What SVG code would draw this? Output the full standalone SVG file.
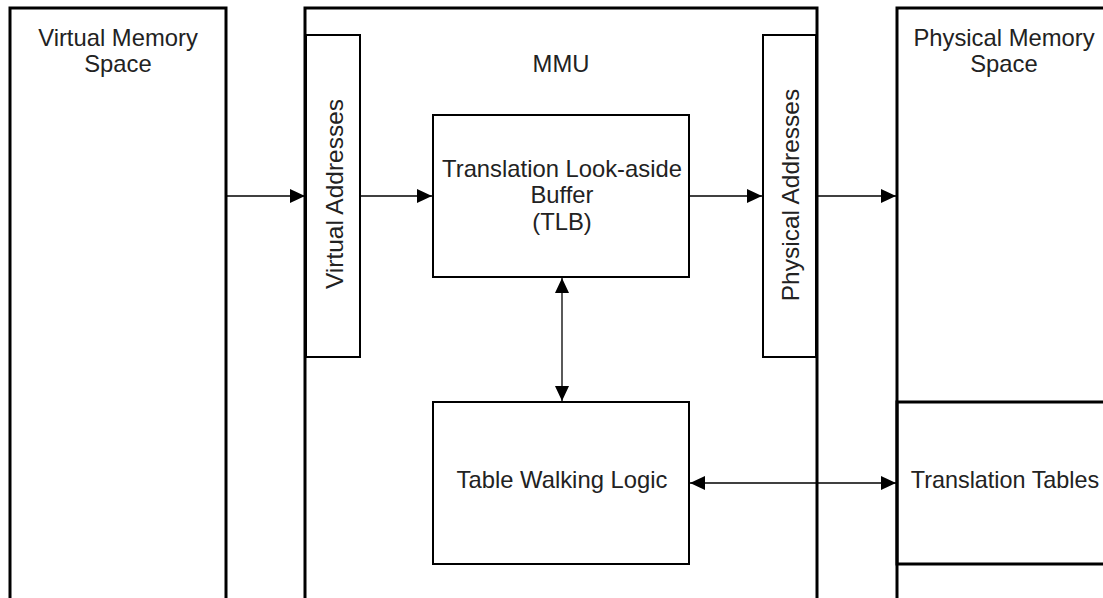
<svg xmlns="http://www.w3.org/2000/svg" width="1103" height="598" viewBox="0 0 1103 598">
<style>
.outer{fill:none;stroke:#000;stroke-width:3}
.inner{fill:#fff;stroke:#000;stroke-width:2}
.lbl{font-family:"Liberation Sans",Arial,sans-serif;font-size:23.8px;fill:#222;text-anchor:middle}
.vlbl{font-size:24.5px}
.conn{stroke:#000;stroke-width:1.3;fill:none}
</style>
<defs>
<marker id="ah" markerUnits="userSpaceOnUse" markerWidth="15" markerHeight="14" refX="15" refY="7" orient="auto-start-reverse">
<path d="M0,0 L15,7 L0,14 z" fill="#000"/>
</marker>
</defs>
<rect width="1103" height="598" fill="#fff"/>
<g id="virtual-memory-space">
<rect class="outer" x="10" y="8" width="216" height="620"/>
<text class="lbl" x="118" y="46">Virtual Memory</text>
<text class="lbl" x="118" y="72">Space</text>
</g>
<g id="mmu">
<rect class="outer" x="305" y="8" width="512" height="620"/>
<text class="lbl" x="561" y="72">MMU</text>
</g>
<g id="virtual-addresses">
<rect class="inner" x="306" y="35" width="54" height="322"/>
<text class="lbl vlbl" transform="translate(343,194) rotate(-90)">Virtual Addresses</text>
</g>
<g id="physical-addresses">
<rect class="inner" x="763" y="35" width="53" height="322"/>
<text class="lbl vlbl" transform="translate(799,195) rotate(-90)">Physical Addresses</text>
</g>
<g id="tlb">
<rect class="inner" x="433" y="115" width="256" height="162"/>
<text class="lbl" x="562" y="177">Translation Look-aside</text>
<text class="lbl" x="562" y="203">Buffer</text>
<text class="lbl" x="562" y="230">(TLB)</text>
</g>
<g id="table-walking-logic">
<rect class="inner" x="433" y="402" width="256" height="162"/>
<text class="lbl" x="562" y="488">Table Walking Logic</text>
</g>
<g id="physical-memory-space">
<rect class="outer" x="897" y="8" width="260" height="620"/>
<text class="lbl" x="1004" y="46">Physical Memory</text>
<text class="lbl" x="1004" y="72">Space</text>
</g>
<g id="translation-tables">
<rect class="outer" x="897" y="402" width="260" height="162"/>
<text class="lbl" x="1005" y="488" style="font-size:23.4px">Translation Tables</text>
</g>
<g id="connectors">
<line class="conn" x1="226" y1="196" x2="305" y2="196" marker-end="url(#ah)"/>
<line class="conn" x1="360" y1="196" x2="432" y2="196" marker-end="url(#ah)"/>
<line class="conn" x1="689" y1="196" x2="762" y2="196" marker-end="url(#ah)"/>
<line class="conn" x1="817" y1="196" x2="896" y2="196" marker-end="url(#ah)"/>
<line class="conn" x1="562" y1="278" x2="562" y2="401" marker-start="url(#ah)" marker-end="url(#ah)"/>
<line class="conn" x1="690" y1="483" x2="896" y2="483" marker-start="url(#ah)" marker-end="url(#ah)"/>
</g>
</svg>
